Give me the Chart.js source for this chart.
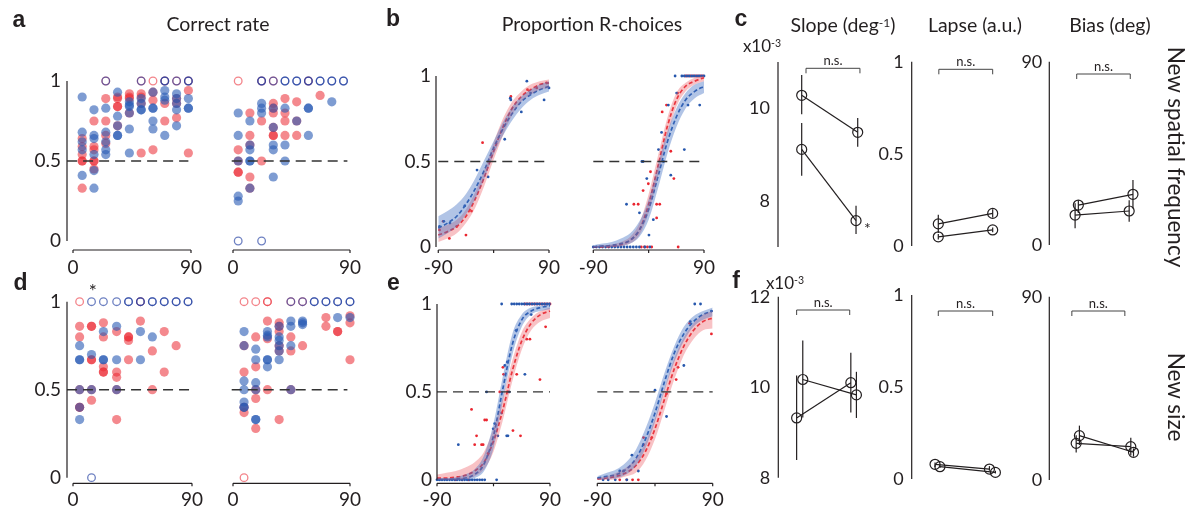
<!DOCTYPE html>
<html><head><meta charset="utf-8">
<script src="https://cdn.jsdelivr.net/npm/chart.js@4.4.1/dist/chart.umd.min.js"></script>
<style>
html,body{margin:0;padding:0;background:#fff;width:1192px;height:513px;overflow:hidden;}
#wrap{position:relative;width:1192px;height:513px;}
canvas{position:absolute;left:0;top:0;}
.t{position:absolute;font-family:Lato,sans-serif;color:#231f20;white-space:nowrap;line-height:1;}
.b{font-family:"Liberation Sans",Arial,sans-serif;font-weight:bold;}
.sup{position:relative;top:-0.45em;font-size:0.62em;}
</style></head><body><div id="wrap"></div>
<script>
// ---------- Panel a / d : correct rate (columns of orientation bins) ----------
const colsAL = [7,16,25,34,43,52,61,70,79,88];
const colsAR = [4,13,22,31,40,49,58,67,76,85];
const colsDL = [5,14,23,33,42,51,60,69,78,87];
const colsDR = [8.5,17.5,26.5,35.5,44.5,53.5,62.5,71.5,80.5,90];

const blueAL = [[0.90,0.68,0.62,0.57,0.41],[0.82,0.66,0.64,0.54,0.44,0.33],[0.83,0.68,0.62,0.57,0.54],[0.93,0.78,0.72,0.66,0.66],[0.87,0.85,0.84,0.80,0.70,0.55],[0.89,0.86,0.82,0.82],[0.93,0.83,0.83,0.75,0.70],[0.94,0.90,0.88,0.66],[0.92,0.89,0.86,0.82,0.72],[0.89,0.83,0.83]];
const redAL  = [[0.64,0.59,0.54,0.50,0.50,0.33],[0.75,0.59,0.57,0.50,0.50,0.45],[0.89,0.75,0.66,0.61],[0.90,0.89,0.84,0.84,0.72],[0.92,0.90,0.89,0.80],[0.92,0.90,0.86,0.55],[0.93,0.88,0.57],[0.86,0.75],[0.89,0.86,0.77],[0.94,0.55]];
const blueAR = [[0.80,0.66,0.50,0.28,0.25],[0.75,0.60,0.57,0.50,0.50,0.33],[0.86,0.83,0.80],[0.83,0.71,0.60,0.57,0.40],[0.83,0.60,0.50],[0.75],[0.83,0.83,0.66],[],[0.87],[]];
const redAR  = [[0.57,0.50,0.43,0.43],[0.80,0.66,0.60,0.40,0.33],[0.75,0.50],[0.86,0.83,0.80,0.71,0.66,0.66],[0.89,0.80,0.75,0.66],[0.87,0.75,0.66],[],[0.91],[],[]];
const blueDL = [[0.75,0.67,0.67,0.50,0.40,0.33],[0.70,0.50],[0.83,0.67,0.67],[0.86,0.67,0.50],[],[0.83,0.67],[0.80],[],[],[]];
const redDL  = [[0.86,0.80,0.50,0.40,0.40],[0.86,0.86,0.67,0.67,0.50,0.44],[0.88,0.80,0.63,0.60,0.60],[0.83,0.60,0.57,0.50,0.33],[0.80,0.80,0.78,0.67],[0.89],[0.72,0.50],[0.83,0.60],[0.75],[]];
const blueDR = [[0.83,0.75,0.55,0.50,0.43,0.40,0.40],[0.73,0.67,0.54,0.50,0.33,0.33],[0.83,0.81,0.80,0.67,0.67,0.63],[0.86,0.80,0.78,0.75,0.72,0.67],[0.89,0.86,0.75,0.50],[0.89,0.88,0.87],[],[],[0.91],[0.91]];
const redDR  = [[0.75,0.60,0.40,0.37],[0.80,0.63,0.50,0.45,0.28],[0.89,0.79,0.50],[0.88,0.86,0.83,0.75,0.72,0.33],[0.80,0.72,0.50],[0.75],[],[0.91,0.86],[0.83,0.83],[0.92,0.88,0.67]];

// hollow markers (x positions) at correct rate 1 and 0
const hollowAL_red1 = [25,52,61,70,79,88];
const hollowAL_blue1 = [25,52,70,70,79,88,88];
const hollowAR_red1 = [4,22,31,58];
const hollowAR_blue1 = [22,22,31,40,40,49,49,58,58,67,67,76,76,85,85];
const hollowAR_blue0 = [4,22];
const hollowDL_red1 = [5,51];
const hollowDL_blue1 = [14,23,33,42,42,51,51,60,60,69,69,78,78,87,87];
const hollowDL_blue0 = [14];
const hollowDR_red1 = [8.5,17.5,26.5,26.5,44.5,53.5];
const hollowDR_blue1 = [44.5,53.5,62.5,62.5,71.5,71.5,80.5,80.5,90,90];
const hollowDR_red0 = [8.5];

// ---------- Panel b / e : proportion R-choices ----------
const psyX = [-90,-75,-60,-45,-30,-15,0,15,30,45,60,75,90];
const bL_blueMean = [0.11,0.14,0.18,0.25,0.34,0.45,0.58,0.69,0.78,0.85,0.89,0.92,0.94];
const bL_blueLo   = [0.05,0.08,0.12,0.19,0.28,0.40,0.54,0.65,0.74,0.81,0.86,0.89,0.91];
const bL_blueHi   = [0.18,0.21,0.25,0.31,0.40,0.51,0.62,0.73,0.82,0.88,0.92,0.95,0.97];
const bL_redMean  = [0.07,0.09,0.12,0.18,0.28,0.41,0.56,0.70,0.81,0.88,0.92,0.95,0.96];
const bL_redLo    = [0.03,0.05,0.08,0.14,0.23,0.36,0.51,0.65,0.77,0.85,0.89,0.92,0.93];
const bL_redHi    = [0.11,0.13,0.16,0.22,0.32,0.45,0.61,0.75,0.85,0.91,0.95,0.97,0.98];
const bR_blueMean = [0.00,0.005,0.01,0.02,0.04,0.10,0.22,0.41,0.61,0.76,0.86,0.91,0.94];
const bR_blueLo   = [0.00,0.00,0.00,0.005,0.02,0.06,0.16,0.34,0.54,0.70,0.81,0.87,0.90];
const bR_blueHi   = [0.01,0.02,0.03,0.05,0.08,0.15,0.28,0.48,0.67,0.81,0.90,0.95,0.97];
const bR_redMean  = [0.00,0.002,0.005,0.015,0.04,0.10,0.25,0.47,0.70,0.86,0.94,0.97,0.99];
const bR_redLo    = [0.00,0.00,0.00,0.005,0.02,0.07,0.20,0.41,0.64,0.82,0.91,0.95,0.97];
const bR_redHi    = [0.005,0.01,0.015,0.03,0.06,0.14,0.31,0.53,0.75,0.90,0.96,0.99,1.00];
const eL_blueMean = [0.00,0.002,0.005,0.01,0.03,0.09,0.25,0.52,0.77,0.91,0.96,0.98,0.99];
const eL_blueLo   = [0.00,0.00,0.00,0.00,0.01,0.05,0.18,0.45,0.71,0.87,0.94,0.96,0.97];
const eL_blueHi   = [0.01,0.01,0.015,0.03,0.06,0.14,0.32,0.59,0.83,0.94,0.98,0.99,1.00];
const eL_redMean  = [0.01,0.01,0.015,0.025,0.05,0.10,0.22,0.40,0.62,0.79,0.89,0.94,0.96];
const eL_redLo    = [0.00,0.00,0.00,0.005,0.02,0.06,0.16,0.34,0.56,0.74,0.85,0.90,0.92];
const eL_redHi    = [0.03,0.04,0.05,0.07,0.10,0.16,0.29,0.47,0.68,0.84,0.92,0.96,0.98];
const eR_blueMean = [0.01,0.02,0.03,0.06,0.12,0.23,0.38,0.56,0.72,0.83,0.90,0.94,0.96];
const eR_blueLo   = [0.00,0.005,0.01,0.03,0.08,0.18,0.33,0.51,0.67,0.79,0.87,0.91,0.93];
const eR_blueHi   = [0.02,0.04,0.06,0.10,0.17,0.29,0.44,0.61,0.76,0.87,0.93,0.96,0.98];
const eR_redMean  = [0.005,0.01,0.02,0.04,0.08,0.16,0.29,0.46,0.63,0.76,0.85,0.90,0.92];
const eR_redLo    = [0.00,0.00,0.005,0.02,0.04,0.11,0.23,0.40,0.57,0.71,0.80,0.85,0.86];
const eR_redHi    = [0.01,0.02,0.04,0.07,0.12,0.21,0.35,0.52,0.69,0.81,0.89,0.94,0.96];

const bL_blueDots = [[-88,0.12],[-81,0.15],[-71,0.14],[-47,0.24],[-27,0.45],[-9,0.41],[18,0.63],[27,0.87],[28,0.86],[45,0.79],[54,0.97],[60,0.90],[82,0.86],[90,0.93]];
const bL_redDots  = [[-88,0.10],[-82,0.15],[-72,0.05],[-60,0.12],[-45,0.07],[-36,0.21],[-18,0.61],[28,0.88],[55,0.92],[70,0.93],[86,0.96]];
const bR_blueDots = [[-90,0],[-85,0],[-80,0],[-75,0],[-70,0],[-65,0],[-60,0],[-55,0],[-50,0],[-45,0],[-40,0],[-35,0],[-30,0],[-25,0],[-20,0],[-15,0],[-6,0],[2,0],[-36,0.25],[-15,0.20],[-3,0.40],[-11,0.5],[-9,0.5],[0.5,0.07],[7.6,0.16],[16,0.57],[21,0.67],[24,0.5],[32,0.83],[36,0.42],[45.5,0.90],[58,0.57],[64,0.83],[83,0.83],[43,1],[54,1],[58,1],[62,1],[66,1],[70,1],[74,1],[78,1],[82,1],[86,1],[90,1]];
const bR_redDots  = [[-24,0.25],[-17,0.25],[-9,0.33],[-0.5,0.37],[3,0.44],[13,0.17],[13,0.25],[18,0.25],[22,0.79],[29,0.83],[36,0.56],[41,0.40],[47,0.9],[-12,0],[-7,0],[-2,0],[5,0],[48,0],[60,1],[64,1],[68,1],[72,1],[76,1],[80,1],[84,1],[88,1]];
const eL_blueDots = [[-90,0],[-86,0],[-82,0],[-78,0],[-74,0],[-70,0],[-66,0],[-62,0],[-58,0],[-54,0],[-50,0],[-46,0],[-42,0],[-38,0],[-34,0],[-30,0],[-26,0],[-22,0],[-18,0],[-14,0],[5,0],[13,1],[29,1],[33,1],[37,1],[41,1],[45,1],[49,1],[53,1],[57,1],[61,1],[65,1],[69,1],[73,1],[77,1],[81,1],[85,1],[89,1],[-56,0.20],[-11,0.5],[-0.5,0.29],[2,0.32],[7,0.25],[21,0.25],[23,0.25],[13,0.38],[18,0.65],[22,0.67],[36,0.85],[50,0.60],[25,0.5],[60,0.94]];
const eL_redDots  = [[-35,0.40],[-27,0.25],[-30,0.2],[-19,0.2],[-16.5,0.2],[-14,0.34],[-11,0.34],[-8.5,0.15],[31,0.28],[43,0.25],[74,0.57],[83,0.87],[53,0.80],[58,0.80],[15,0.64],[16,0.6],[37,0.6],[23,0.5],[10,0.5],[50,1],[54,1],[58,1],[62,1],[66,1],[70,1],[74,1],[78,1],[82,1],[86,1],[90,1],[-60,0],[-50,0],[-40,0]];
const eR_blueDots = [[-36,0.14],[-49,0.05],[-26,0.05],[-55,0.05],[0,0.51],[18,0.36],[45,0.65],[55,0.90],[62,1],[71,1],[88,0.96],[-62,0],[-44,0],[-81,0],[-73,0]];
const eR_redDots  = [[-18,0.24],[-18,0.20],[-5,0.24],[36,0.64],[54,0.89],[88,0.83],[-26,0],[-35,0],[-55,0],[18,0.49],[33,0.57],[-44,0]];

// ---------- Panel c / f : fit parameters ----------
const cSlope1 = {x:[1,2], y:[10.28,9.48], lo:[9.87,9.17], hi:[10.72,9.79]};
const cSlope2 = {x:[1,1.97], y:[9.11,7.57], lo:[8.54,7.28], hi:[9.68,7.89]};
const cLapse1 = {x:[1,2], y:[0.12,0.177], lo:[0.07,0.155], hi:[0.17,0.20]};
const cLapse2 = {x:[1,2], y:[0.05,0.087], lo:[0.035,0.075], hi:[0.065,0.10]};
const cBias1  = {x:[1.03,2.04], y:[19.6,24.9], lo:[15.7,18], hi:[22,31.9]};
const cBias2  = {x:[0.97,1.97], y:[14.7,16.7], lo:[8.2,11.4], hi:[20.5,22]};
const fSlope1 = {x:[0.91,1.88], y:[9.32,10.10], lo:[8.39,9.44], hi:[10.26,10.76]};
const fSlope2 = {x:[1.02,1.98], y:[10.17,9.83], lo:[9.33,9.32], hi:[11.03,10.34]};
const fLapse1 = {x:[0.94,1.94], y:[0.08,0.054], lo:[0.065,0.045], hi:[0.09,0.07]};
const fLapse2 = {x:[1.03,2.05], y:[0.067,0.036], lo:[0.06,0.03], hi:[0.075,0.045]};
const fBias1  = {x:[0.99,2.0], y:[18.0,16.4], lo:[13.5,12], hi:[22,20.8]};
const fBias2  = {x:[1.05,2.05], y:[21.8,13.6], lo:[17.2,11.5], hi:[26.7,15.5]};

// tick values
const ticksRate = [0,0.5,1], ticksDeg = [0,90], ticksPsyX = [-90,90], ticksPsyMarks = [-90,0,90];
const ticksSlopeC = [8,10], ticksSlopeF = [8,10,12], ticksLapse = [0,0.5,1], ticksBias = [0,90];

// ---------- drawing ----------
const FONT = 'Lato', INK = '#231f20';
const BLUE_DOT = 'rgba(40,90,180,0.6)', RED_DOT = 'rgba(235,40,50,0.55)';
const BLUE_RING = 'rgba(30,60,160,0.65)', RED_RING = 'rgba(235,50,60,0.6)';
const BLUE = '#2657ad', RED = '#ea2630';
const BLUE_BAND = 'rgba(70,115,195,0.42)', RED_BAND = 'rgba(235,85,95,0.36)';
Chart.defaults.font.family = FONT; Chart.defaults.color = INK;

const deco = {
  id:'deco',
  afterDatasetsDraw(chart, args, o) {
    const {ctx, chartArea:ca} = chart; const xs = chart.scales.x, ys = chart.scales.y;
    ctx.save(); ctx.strokeStyle = INK; ctx.fillStyle = INK; ctx.lineWidth = 1.2;
    const seg = (a,b,c,d)=>{ctx.beginPath();ctx.moveTo(a,b);ctx.lineTo(c,d);ctx.stroke();};
    if (o.yLine) { const X = ca.left; seg(X, ys.getPixelForValue(o.yLine[0]), X, ys.getPixelForValue(o.yLine[1])); }
    if (o.xLine) { const Y = ca.bottom; seg(xs.getPixelForValue(o.xLine[0]), Y, xs.getPixelForValue(o.xLine[1]), Y);
      (o.xMarks||[]).forEach(v=>{const X = xs.getPixelForValue(v); seg(X, Y, X, Y+3);}); }
    (o.err||[]).forEach(e=>e.x.forEach((xv,i)=>{const X = xs.getPixelForValue(xv); seg(X, ys.getPixelForValue(e.lo[i]), X, ys.getPixelForValue(e.hi[i]));}));
    if (o.bracket) { const b = o.bracket, Y = ca.top + b.dy, X0 = xs.getPixelForValue(b.x0), X1 = xs.getPixelForValue(b.x1);
      ctx.lineWidth = 1; ctx.strokeStyle = '#444';
      ctx.beginPath(); ctx.moveTo(X0,Y+5); ctx.lineTo(X0,Y); ctx.lineTo(X1,Y); ctx.lineTo(X1,Y+5); ctx.stroke();
      ctx.font = '13px '+FONT; ctx.textAlign = 'center'; ctx.textBaseline = 'alphabetic'; ctx.fillText('n.s.', (X0+X1)/2, Y-3); }
    if (o.star) { ctx.font = '16px '+FONT; ctx.textAlign = 'left'; ctx.textBaseline = 'middle';
      ctx.fillText('*', xs.getPixelForValue(o.star.x)+8, ys.getPixelForValue(o.star.y)+8); }
    ctx.restore();
  }
};
Chart.register(deco);

const W = 1192, H = 513, YW = 60, XH = 40;
function chartAt(a, opt) {
  const cv = document.createElement('canvas'); cv.width = W; cv.height = H;
  document.getElementById('wrap').appendChild(cv);
  const hasY = !!opt.yTicks, hasX = !!opt.xTicks;
  return new Chart(cv, {
    type:'line',
    data:{datasets:opt.datasets},
    options:{
      responsive:false, animation:false, devicePixelRatio:1, events:[],
      layout:{padding:{left:a.l-(hasY?YW:0), right:W-a.r, top:a.t, bottom:H-a.b-(hasX?XH:0)}},
      plugins:{legend:{display:false}, tooltip:{enabled:false}, deco:opt.deco||{}},
      scales:{
        x:{type:'linear', min:opt.xmin, max:opt.xmax, display:hasX, grid:{display:false, drawTicks:false, tickLength:0}, border:{display:false},
           ticks:{color:INK, font:{family:FONT,size:opt.fs||19}, padding:opt.xPad||6, maxRotation:0, autoSkip:false, callback:v=>String(v)},
           afterBuildTicks:s=>{ if(hasX) s.ticks = opt.xTicks.map(v=>({value:v})); },
           afterFit:s=>{ if(hasX){ s.height = XH; } s.paddingLeft = 0; s.paddingRight = 0; }},
        y:{type:'linear', min:opt.ymin, max:opt.ymax, display:hasY, grid:{display:false, drawTicks:false, tickLength:0}, border:{display:false},
           ticks:{color:INK, font:{family:FONT,size:opt.fs||19}, padding:opt.yPad||6, autoSkip:false, callback:v=>String(v)},
           afterBuildTicks:s=>{ if(hasY) s.ticks = opt.yTicks.map(v=>({value:v})); },
           afterFit:s=>{ if(hasY){ s.width = YW; } s.paddingTop = 0; s.paddingBottom = 0; }}
      }
    }
  });
}

const flat = (cols, vals)=>{const o=[]; vals.forEach((arr,i)=>arr.forEach(v=>o.push({x:cols[i],y:v}))); return o;};
const at = (xsArr, yv)=>xsArr.map(x=>({x, y:yv}));
const dashLine = (x0,x1)=>({data:[{x:x0,y:0.5},{x:x1,y:0.5}], borderColor:'#333', borderDash:[10,6], borderWidth:1.4, pointRadius:0, clip:false});
const dots = (d, col)=>({data:d, showLine:false, pointRadius:4.6, pointBackgroundColor:col, pointBorderWidth:0, clip:false});
const rings = (d, col)=>({data:d, showLine:false, pointRadius:3.8, pointBackgroundColor:'rgba(0,0,0,0)', pointBorderColor:col, pointBorderWidth:1.3, clip:false});

function rateSets(cols, bv, rv, rb1, bb1, bb0, rb0, dx) {
  return [dashLine(dx[0], dx[1]), dots(flat(cols,bv), BLUE_DOT), dots(flat(cols,rv), RED_DOT),
    rings(at(bb1,1).concat(at(bb0,0)), BLUE_RING), rings(at(rb1,1).concat(at(rb0,0)), RED_RING)];
}
function psySets(bm,bl,bh,rm,rl,rh,bd,rd) {
  const P = ys=>psyX.map((x,i)=>({x, y:ys[i]}));
  const edge = (ys, fill, col)=>({data:P(ys), fill:fill, backgroundColor:col, borderColor:'rgba(0,0,0,0)', borderWidth:0, pointRadius:0, cubicInterpolationMode:'monotone', clip:false});
  const mean = (ys, col)=>({data:P(ys), borderColor:col, borderDash:[4,2.5], borderWidth:1.7, pointRadius:0, cubicInterpolationMode:'monotone', clip:false});
  const pts = (d, col)=>({data:d.map(p=>({x:p[0],y:p[1]})), showLine:false, pointRadius:1.4, pointBackgroundColor:col, pointBorderWidth:0, clip:false});
  return [dashLine(-90,90), edge(bh,'+1',BLUE_BAND), edge(bl,false,BLUE_BAND), edge(rh,'+1',RED_BAND), edge(rl,false,RED_BAND),
    mean(bm, BLUE), mean(rm, RED), pts(bd, BLUE), pts(rd, RED)];
}
function parSets(s1, s2) {
  const mk = s=>({data:s.x.map((x,i)=>({x, y:s.y[i]})), borderColor:INK, borderWidth:1.2, pointRadius:5, pointBorderColor:INK, pointBorderWidth:1.2, pointBackgroundColor:'rgba(0,0,0,0)', clip:false});
  return [mk(s1), mk(s2)];
}

// a
chartAt({l:67,t:81,r:191,b:250}, {xmin:-4.58, xmax:90, ymin:-0.05625, ymax:1, yTicks:ticksRate, xTicks:ticksDeg,
  datasets:rateSets(colsAL, blueAL, redAL, hollowAL_red1, hollowAL_blue1, [], [], [-4.5,88]),
  deco:{yLine:[0,1], xLine:[0,90], xMarks:ticksDeg}});
chartAt({l:233,t:81,r:350,b:250}, {xmin:0, xmax:90, ymin:-0.05625, ymax:1, xTicks:ticksDeg,
  datasets:rateSets(colsAR, blueAR, redAR, hollowAR_red1, hollowAR_blue1, hollowAR_blue0, [], [-1,88]),
  deco:{xLine:[0,90], xMarks:ticksDeg}});
// d
chartAt({l:67,t:301.7,r:192,b:483.3}, {xmin:-4.54, xmax:90, ymin:-0.032, ymax:1, yTicks:ticksRate, xTicks:ticksDeg, xPad:5,
  datasets:rateSets(colsDL, blueDL, redDL, hollowDL_red1, hollowDL_blue1, hollowDL_blue0, [], [-4.5,88]),
  deco:{yLine:[0,1], xLine:[0,90], xMarks:ticksDeg}});
chartAt({l:233,t:301.7,r:350,b:483.3}, {xmin:0, xmax:90, ymin:-0.032, ymax:1, xTicks:ticksDeg, xPad:5,
  datasets:rateSets(colsDR, blueDR, redDR, hollowDR_red1, hollowDR_blue1, [], hollowDR_red0, [-1,88]),
  deco:{xLine:[0,90], xMarks:ticksDeg}});
// b
chartAt({l:436,t:76,r:549,b:250}, {xmin:-93.7, xmax:90, ymin:-0.0175, ymax:1, yTicks:ticksRate, xTicks:ticksPsyX, yPad:5,
  datasets:psySets(bL_blueMean,bL_blueLo,bL_blueHi,bL_redMean,bL_redLo,bL_redHi,bL_blueDots,bL_redDots),
  deco:{yLine:[0,1], xLine:[-90,90], xMarks:ticksPsyMarks}});
chartAt({l:593.3,t:76,r:704,b:250}, {xmin:-90, xmax:90, ymin:-0.0175, ymax:1, xTicks:ticksPsyX,
  datasets:psySets(bR_blueMean,bR_blueLo,bR_blueHi,bR_redMean,bR_redLo,bR_redHi,bR_blueDots,bR_redDots),
  deco:{xLine:[-90,90], xMarks:ticksPsyMarks}});
// e
chartAt({l:437,t:304,r:550,b:483.3}, {xmin:-90, xmax:90, ymin:-0.02, ymax:1, yTicks:ticksRate, xTicks:ticksPsyX, yPad:5, xPad:5,
  datasets:psySets(eL_blueMean,eL_blueLo,eL_blueHi,eL_redMean,eL_redLo,eL_redHi,eL_blueDots,eL_redDots),
  deco:{yLine:[0,1], xLine:[-90,90], xMarks:ticksPsyMarks}});
chartAt({l:597.3,t:304,r:712.7,b:483.3}, {xmin:-90, xmax:90, ymin:-0.02, ymax:1, xTicks:ticksPsyX, xPad:5,
  datasets:psySets(eR_blueMean,eR_blueLo,eR_blueHi,eR_redMean,eR_redLo,eR_redHi,eR_blueDots,eR_redDots),
  deco:{xLine:[-90,90], xMarks:ticksPsyMarks}});
// c
chartAt({l:778,t:62,r:900,b:247}, {xmin:0.577, xmax:2.755, ymin:7, ymax:11, yTicks:ticksSlopeC, fs:18, yPad:8,
  datasets:parSets(cSlope1,cSlope2), deco:{yLine:[7,11], err:[cSlope1,cSlope2], bracket:{x0:1.077,x1:2.04,dy:6.3}, star:{x:1.97,y:7.57}}});
chartAt({l:911.7,t:61.7,r:1040,b:246}, {xmin:0.511, xmax:2.87, ymin:0, ymax:1, yTicks:ticksLapse, fs:18, yPad:8,
  datasets:parSets(cLapse1,cLapse2), deco:{yLine:[0,1], err:[cLapse1,cLapse2], bracket:{x0:1.01,x1:2.0,dy:7.6}}});
chartAt({l:1049.3,t:61.7,r:1160,b:245}, {xmin:0.493, xmax:2.54, ymin:0, ymax:90, yTicks:ticksBias, fs:18, yPad:7,
  datasets:parSets(cBias1,cBias2), deco:{yLine:[0,90], err:[cBias1,cBias2], bracket:{x0:1.0,x1:1.99,dy:12.3}}});
// f
chartAt({l:778.3,t:296.7,r:900,b:477.7}, {xmin:0.582, xmax:2.76, ymin:8, ymax:12, yTicks:ticksSlopeF, fs:18, yPad:8,
  datasets:parSets(fSlope1,fSlope2), deco:{yLine:[8,12], err:[fSlope1,fSlope2], bracket:{x0:0.91,x1:1.86,dy:13.3}}});
chartAt({l:911.7,t:295,r:1040,b:479}, {xmin:0.511, xmax:2.87, ymin:0, ymax:1, yTicks:ticksLapse, fs:18, yPad:8,
  datasets:parSets(fLapse1,fLapse2), deco:{yLine:[0,1], err:[fLapse1,fLapse2], bracket:{x0:1.0,x1:2.0,dy:16}}});
chartAt({l:1049.3,t:296.7,r:1160,b:480}, {xmin:0.493, xmax:2.54, ymin:0, ymax:90, yTicks:ticksBias, fs:18, yPad:7,
  datasets:parSets(fBias1,fBias2), deco:{yLine:[0,90], err:[fBias1,fBias2], bracket:{x0:0.91,x1:1.89,dy:14.3}}});

// ---------- text ----------
function txt(html, cx, cy, size, cls, rot) {
  const d = document.createElement('div'); d.className = 't' + (cls ? ' '+cls : '');
  d.innerHTML = html; d.style.left = cx+'px'; d.style.top = cy+'px'; d.style.fontSize = size+'px';
  d.style.transform = 'translate(-50%,-50%)' + (rot ? ' rotate('+rot+'deg)' : '');
  document.getElementById('wrap').appendChild(d);
}
txt('a', 19, 19, 23, 'b'); txt('b', 393, 18, 23, 'b'); txt('c', 741, 18, 23, 'b');
txt('d', 20.5, 282, 23, 'b'); txt('e', 393.5, 281.5, 23, 'b'); txt('f', 736, 280, 23, 'b');
txt('Correct rate', 218, 24, 19.5);
txt('Proportion R-choices', 592, 24, 19.5);
txt('Slope (deg<span class="sup">-1</span>)', 843, 25, 19.5);
txt('Lapse (a.u.)', 975, 25, 19.5);
txt('Bias (deg)', 1110, 25, 19.5);
txt('x10<span class="sup">-3</span>', 762, 45, 17);
txt('x10<span class="sup">-3</span>', 785, 282, 17);
txt('New spatial frequency', 1176, 157, 22.5, '', 90);
txt('New size', 1176, 397, 22.5, '', 90);
txt('*', 92.7, 290, 19);
</script></body></html>
